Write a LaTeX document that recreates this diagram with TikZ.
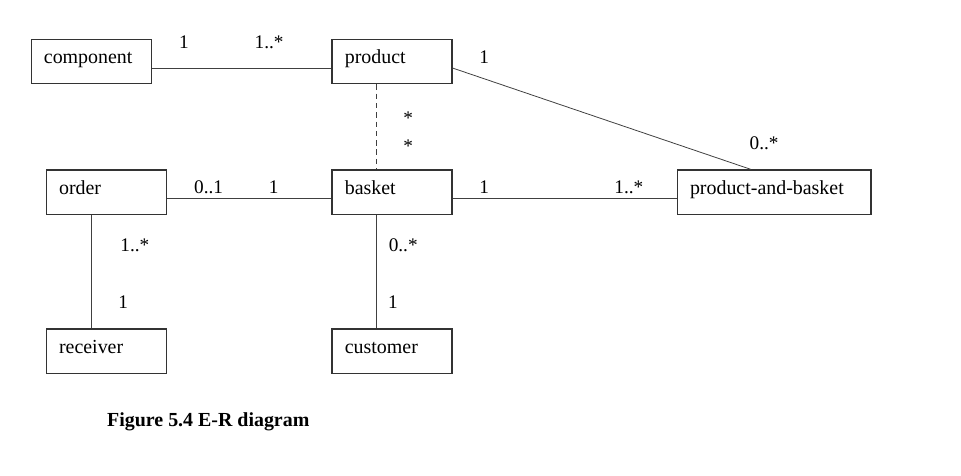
\documentclass[tikz,border=0pt]{standalone}
\usepackage{fontspec}
\setmainfont{Liberation Serif}
\usepackage{tikz}
\usetikzlibrary{positioning}

\begin{document}
\begin{tikzpicture}[node distance=1.5cm,
        entity/.style={draw=black!80, line width=0.8pt, rectangle, minimum width=3.175cm, minimum height=1.18cm, inner xsep=0.34cm, text width=2.495cm, align=left, text height=10.5pt, text depth=7pt, font=\fontsize{15}{17}\selectfont},
        mult/.style={inner sep=1pt, font=\fontsize{14.5}{17}\selectfont},
        link/.style={draw=black!75, line width=0.6pt}]
        \useasboundingbox (0,0) rectangle (25.43,12.57);

        % Top Row
        \node (component) [entity] at (2.41,10.94) {component};
        \node (product) [entity, right=4.76cm of component] {product};

        % Middle Row
        \node (order) [entity, below=2.25cm of component, xshift=0.4cm] {order};
        \node (basket) [entity, below=2.25cm of product] {basket};
        \node (pab) [entity, minimum width=5.13cm, text width=4.45cm, right=5.93cm of basket] {product-and-basket};

        % Bottom Row
        \node (receiver) [entity, below=3.0cm of order] {receiver};
        \node (customer) [entity, below=3.0cm of basket] {customer};

        % Associations
        \draw[link] ([yshift=-0.17cm]component.east) -- ([yshift=-0.17cm]product.west);
        \draw[link] ([yshift=-0.17cm]product.east) -- ([xshift=-0.61cm]pab.north);
        \draw[link, dash pattern=on 4pt off 3pt] ([xshift=-0.4cm]product.south) -- ([xshift=-0.4cm]basket.north);
        \draw[link] ([yshift=-0.16cm]order.east) -- ([yshift=-0.16cm]basket.west);
        \draw[link] ([yshift=-0.16cm]basket.east) -- ([yshift=-0.16cm]pab.west);
        \draw[link] ([xshift=-0.4cm]order.south) -- ([xshift=-0.4cm]receiver.north);
        \draw[link] ([xshift=-0.4cm]basket.south) -- ([xshift=-0.4cm]customer.north);

        % Multiplicities
        \node (m1) [mult] at (4.87,11.46) {1};
        \node (m2) [mult] at (7.12,11.46) {1..*};
        \node (m3) [mult] at (12.81,11.06) {1};
        \node (m4) [mult] at (10.80,9.45) {*};
        \node (m5) [mult] at (10.80,8.71) {*};
        \node (m6) [mult] at (20.22,8.78) {0..*};
        \node (m7) [mult] at (5.52,7.62) {0..1};
        \node (m8) [mult] at (7.24,7.62) {1};
        \node (m9) [mult] at (12.81,7.62) {1};
        \node (m10) [mult] at (16.64,7.62) {1..*};
        \node (m11) [mult] at (3.57,6.08) {1..*};
        \node (m12) [mult] at (3.26,4.58) {1};
        \node (m13) [mult] at (10.67,6.08) {0..*};
        \node (m14) [mult] at (10.40,4.58) {1};

        % Caption
        \node (caption) [anchor=west, inner sep=0pt, font=\fontsize{15}{17}\selectfont\bfseries] at (2.83,1.40) {Figure 5.4 E-R diagram};
\end{tikzpicture}
\end{document}
